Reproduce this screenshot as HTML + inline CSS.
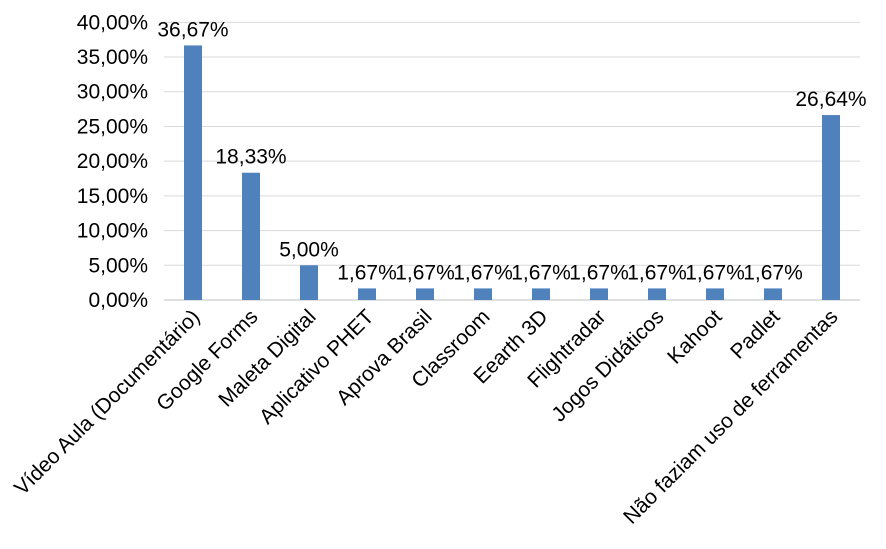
<!DOCTYPE html>
<html><head><meta charset="utf-8"><style>
body{margin:0;background:#fff}
svg{display:block;font-family:"Liberation Sans",Arial,sans-serif}
</style></head><body>
<svg id="chart" width="886" height="549"></svg>
<script>
const categories=["Vídeo Aula (Documentário)","Google Forms","Maleta Digital","Aplicativo PHET","Aprova Brasil","Classroom","Eearth 3D","Flightradar","Jogos Didáticos","Kahoot","Padlet","Não faziam uso de ferramentas"];
const values=[36.67,18.33,5.00,1.67,1.67,1.67,1.67,1.67,1.67,1.67,1.67,26.64];
const valueLabels=["36,67%","18,33%","5,00%","1,67%","1,67%","1,67%","1,67%","1,67%","1,67%","1,67%","1,67%","26,64%"];
const ticks=[0,5,10,15,20,25,30,35,40];
const tickLabels=["0,00%","5,00%","10,00%","15,00%","20,00%","25,00%","30,00%","35,00%","40,00%"];
const NS="http://www.w3.org/2000/svg";
const svg=document.getElementById('chart');
const left=164,band=58,y0=300,yTop=22.3,yMax=40,fs=21;
const y=v=>y0-(v/yMax)*(y0-yTop);
const x=i=>left+band*i+band/2;
function mk(t,a){const e=document.createElementNS(NS,t);for(const k in a)e.setAttribute(k,a[k]);svg.appendChild(e);return e;}
ticks.forEach((t,i)=>{
  const g=mk('line',{x1:left,x2:left+band*categories.length,y1:y(t),y2:y(t),stroke:i===0?'#bfbfbf':'#d9d9d9','stroke-width':1});
  
  
  const l=mk('text',{x:148,y:y(t)+7,'text-anchor':'end','font-size':fs,fill:'#000'});
  l.textContent=tickLabels[i];
  
  
});
categories.forEach((c,i)=>{
  const b=mk('rect',{x:x(i)-9,y:y(values[i]),width:18,height:y0-y(values[i]),fill:'#4f81bd'});
  
  
  const v=mk('text',{x:x(i),y:y(values[i])-9,'text-anchor':'middle','font-size':fs,fill:'#000'});
  v.textContent=valueLabels[i];
  
  
  const cx=x(i)+8,cy=318;
  const l=mk('text',{x:cx,y:cy,'text-anchor':'end','font-size':fs,fill:'#000',transform:`rotate(-45 ${cx} ${cy})`});
  l.textContent=c;
  
  
});
</script>
</body></html>
